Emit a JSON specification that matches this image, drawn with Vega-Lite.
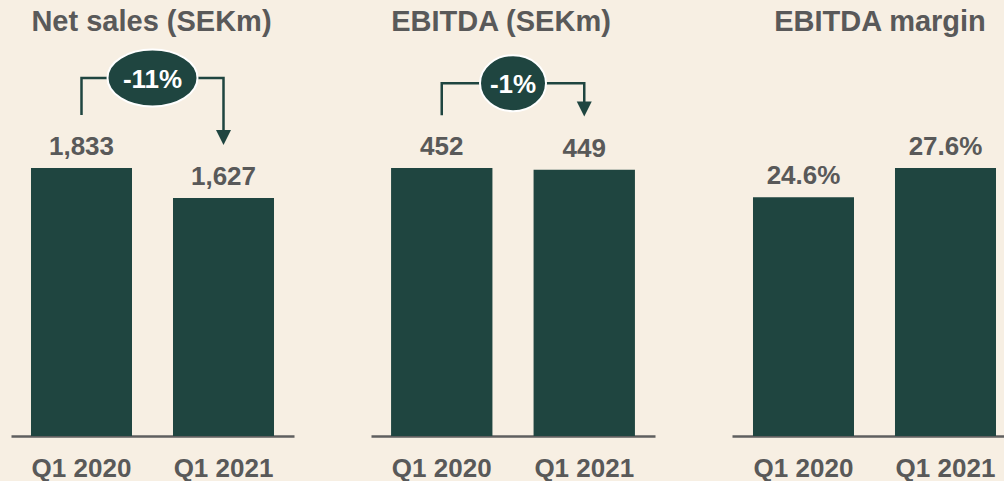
{
  "$schema": "https://vega.github.io/schema/vega-lite/v6.json",
  "background": "#f7efe3",
  "padding": {"left": 11, "top": 8, "right": 0, "bottom": 0},
  "bounds": "flush",
  "spacing": 77,
  "usermeta": {"embedOptions": {"actions": false}},
  "config": {
    "font": "Liberation Sans",
    "view": {"stroke": null},
    "axisX": {
      "labelAngle": 0,
      "labelFont": "Liberation Sans",
      "labelFontSize": 26,
      "labelFontWeight": "bold",
      "labelColor": "#595959",
      "ticks": false,
      "tickSize": 0,
      "labelPadding": 40,
      "labelBaseline": "alphabetic",
      "labelOverlap": false,
      "domainColor": "#5f5f5f",
      "domainWidth": 2.5,
      "grid": false
    },
    "title": {
      "font": "Liberation Sans",
      "fontSize": 29,
      "fontWeight": "bold",
      "color": "#595959",
      "baseline": "alphabetic",
      "frame": "group",
      "anchor": "middle",
      "offset": 8
    }
  },
  "datasets": {
    "sales": [
      {"period": "Q1 2020", "value": 1833, "label": "1,833"},
      {"period": "Q1 2021", "value": 1627, "label": "1,627"}
    ],
    "salesConn": [
      {"period": "Q1 2020", "value": 2195, "o": 1},
      {"period": "Q1 2020", "value": 2449, "o": 2},
      {"period": "Q1 2021", "value": 2449, "o": 3},
      {"period": "Q1 2021", "value": 2093, "o": 4}
    ],
    "salesArrow": [{"period": "Q1 2021", "value": 2042}],
    "salesBadge": [{"period": "Q1 2020", "value": 2449, "label": "-11%"}],
    "ebitda": [
      {"period": "Q1 2020", "value": 452, "label": "452"},
      {"period": "Q1 2021", "value": 449, "label": "449"}
    ],
    "ebitdaConn": [
      {"period": "Q1 2020", "value": 541, "o": 1},
      {"period": "Q1 2020", "value": 595, "o": 2},
      {"period": "Q1 2021", "value": 595, "o": 3},
      {"period": "Q1 2021", "value": 563, "o": 4}
    ],
    "ebitdaArrow": [{"period": "Q1 2021", "value": 551.5}],
    "ebitdaBadge": [{"period": "Q1 2020", "value": 595, "label": "-1%"}],
    "margin": [
      {"period": "Q1 2020", "value": 24.6, "label": "24.6%"},
      {"period": "Q1 2021", "value": 27.6, "label": "27.6%"}
    ]
  },
  "hconcat": [
    {
      "width": 283,
      "height": 391,
      "title": {"text": "Net sales (SEKm)", "dx": -1},
      "encoding": {
        "x": {"field": "period", "type": "nominal", "title": null, "scale": {"paddingInner": 0.2887, "paddingOuter": 0.1408}},
        "y": {"field": "value", "type": "quantitative", "scale": {"domain": [0, 2674.3], "nice": false, "zero": true}, "axis": null}
      },
      "layer": [
        {"data": {"name": "sales"}, "mark": {"type": "bar", "color": "#1f4540"}},
        {"data": {"name": "sales"}, "mark": {"type": "text", "dy": -13, "baseline": "alphabetic", "fontSize": 26, "fontWeight": "bold", "color": "#595959"}, "encoding": {"text": {"field": "label"}}},
        {"data": {"name": "salesConn"}, "mark": {"type": "line", "color": "#1f4540", "strokeWidth": 2.5}, "encoding": {"order": {"field": "o"}}},
        {"data": {"name": "salesArrow"}, "mark": {"type": "point", "shape": "M-1,-1L1,-1L0,1Z", "filled": true, "color": "#1f4540", "size": 225, "opacity": 1}},
        {"data": {"name": "salesBadge"}, "mark": {"type": "point", "shape": "M-1,0A1,0.633,0,1,0,1,0A1,0.633,0,1,0,-1,0Z", "filled": true, "fill": "#1f4540", "stroke": "#ffffff", "strokeWidth": 2, "size": 8100, "opacity": 1},
         "encoding": {"x": {"field": "period", "type": "nominal", "title": null, "bandPosition": 1.203}}},
        {"data": {"name": "salesBadge"}, "mark": {"type": "text", "dy": 10, "baseline": "alphabetic", "fontSize": 26, "fontWeight": "bold", "color": "#ffffff"},
         "encoding": {"x": {"field": "period", "type": "nominal", "title": null, "bandPosition": 1.203}, "text": {"field": "label"}}}
      ]
    },
    {
      "width": 284,
      "height": 391,
      "title": {"text": "EBITDA (SEKm)", "dx": -12},
      "encoding": {
        "x": {"field": "period", "type": "nominal", "title": null, "scale": {"paddingInner": 0.2887, "paddingOuter": 0.1408}},
        "y": {"field": "value", "type": "quantitative", "scale": {"domain": [0, 659.4], "nice": false, "zero": true}, "axis": null}
      },
      "layer": [
        {"data": {"name": "ebitda"}, "mark": {"type": "bar", "color": "#1f4540"}},
        {"data": {"name": "ebitda"}, "mark": {"type": "text", "dy": -13, "baseline": "alphabetic", "fontSize": 26, "fontWeight": "bold", "color": "#595959"}, "encoding": {"text": {"field": "label"}}},
        {"data": {"name": "ebitdaConn"}, "mark": {"type": "line", "color": "#1f4540", "strokeWidth": 2.5}, "encoding": {"order": {"field": "o"}}},
        {"data": {"name": "ebitdaArrow"}, "mark": {"type": "point", "shape": "M-1,-1L1,-1L0,1Z", "filled": true, "color": "#1f4540", "size": 225, "opacity": 1}},
        {"data": {"name": "ebitdaBadge"}, "mark": {"type": "point", "shape": "M-1,0A1,0.848,0,1,0,1,0A1,0.848,0,1,0,-1,0Z", "filled": true, "fill": "#1f4540", "stroke": "#ffffff", "strokeWidth": 2, "size": 4356, "opacity": 1},
         "encoding": {"x": {"field": "period", "type": "nominal", "title": null, "bandPosition": 1.203}}},
        {"data": {"name": "ebitdaBadge"}, "mark": {"type": "text", "dy": 10, "baseline": "alphabetic", "fontSize": 26, "fontWeight": "bold", "color": "#ffffff"},
         "encoding": {"x": {"field": "period", "type": "nominal", "title": null, "bandPosition": 1.203}, "text": {"field": "label"}}}
      ]
    },
    {
      "width": 272,
      "height": 391,
      "title": {"text": "EBITDA margin", "dx": 12},
      "encoding": {
        "x": {"field": "period", "type": "nominal", "title": null, "scale": {"paddingInner": 0.2887, "paddingOuter": 0.1021, "align": 0.724}},
        "y": {"field": "value", "type": "quantitative", "scale": {"domain": [0, 40.27], "nice": false, "zero": true}, "axis": null}
      },
      "layer": [
        {"data": {"name": "margin"}, "mark": {"type": "bar", "color": "#1f4540"}},
        {"data": {"name": "margin"}, "mark": {"type": "text", "dy": -13, "baseline": "alphabetic", "fontSize": 26, "fontWeight": "bold", "color": "#595959"}, "encoding": {"text": {"field": "label"}}}
      ]
    }
  ]
}
